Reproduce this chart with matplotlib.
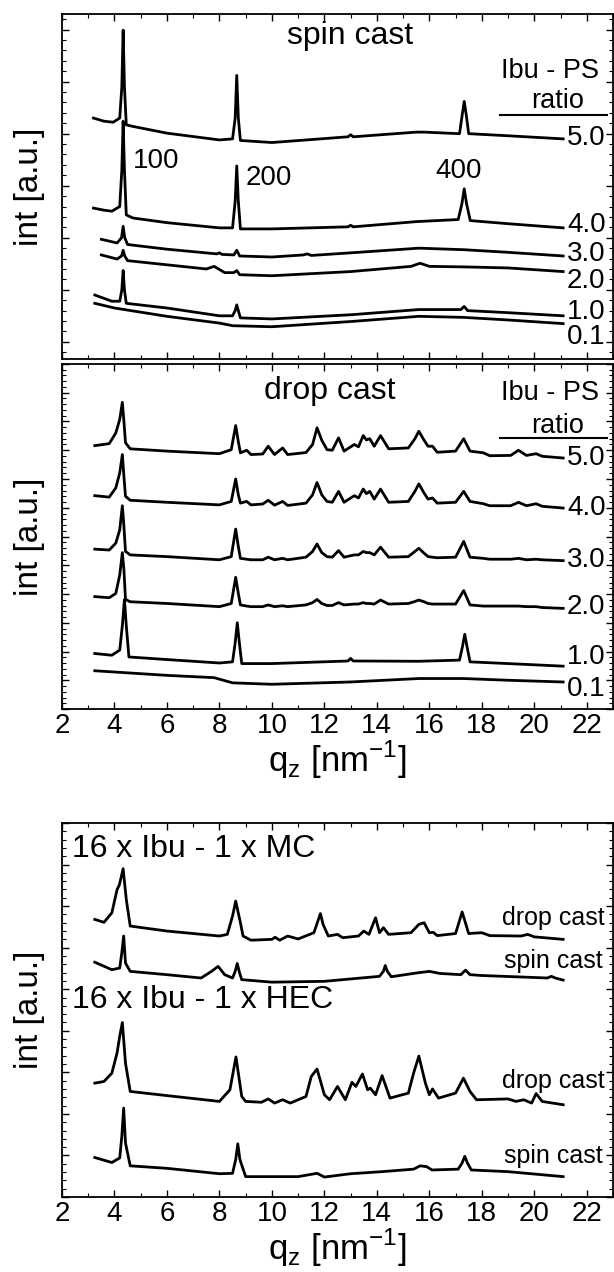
import matplotlib
matplotlib.use("Agg")
import matplotlib.pyplot as plt
from matplotlib.ticker import MultipleLocator, AutoMinorLocator

plt.rcParams['font.family'] = ['Liberation Sans', 'DejaVu Sans']
plt.rcParams['mathtext.fontset'] = 'custom'
plt.rcParams['mathtext.rm'] = 'Liberation Sans'

# ---------------- spin cast (top panel) ----------------
spin_q_50 = [3.2, 3.6, 3.95, 4.2, 4.28, 4.33, 4.38, 4.45, 4.7, 6.0, 8.0, 8.5, 8.6, 8.66, 8.72, 8.8, 10.0,
             12.9, 13.0, 13.1, 15.5, 15.8, 17.15, 17.25, 17.33, 17.41, 17.5, 19.0, 21.1]
spin_i_50 = [4.30, 4.24, 4.22, 4.30, 4.9, 5.99, 4.9, 4.17, 4.14, 4.01, 3.88, 3.90, 4.3, 5.12, 4.3, 3.87, 3.83,
             3.94, 3.98, 3.94, 4.03, 4.03, 4.0, 4.35, 4.62, 4.35, 4.0, 3.96, 3.90]

spin_q_40 = [3.2, 3.6, 3.9, 4.2, 4.28, 4.33, 4.38, 4.45, 4.7, 6.0, 8.0, 8.5, 8.6, 8.66, 8.72, 8.8, 10.0,
             12.9, 13.0, 13.1, 15.5, 17.1, 17.24, 17.33, 17.42, 17.56, 19.0, 21.1]
spin_i_40 = [2.57, 2.53, 2.51, 2.60, 3.3, 4.24, 3.3, 2.44, 2.38, 2.29, 2.19, 2.19, 2.7, 3.38, 2.7, 2.17, 2.17,
             2.21, 2.24, 2.21, 2.31, 2.35, 2.65, 2.94, 2.65, 2.33, 2.27, 2.19]

spin_q_30 = [3.5, 4.1, 4.27, 4.33, 4.39, 4.5, 6.0, 7.9, 8.0, 8.1, 8.55, 8.66, 8.77, 10.0, 11.2, 11.35, 11.5,
             13.0, 15.6, 17.33, 19.0, 21.1]
spin_i_30 = [1.97, 1.90, 2.0, 2.22, 2.0, 1.87, 1.78, 1.69, 1.71, 1.68, 1.67, 1.76, 1.65, 1.63, 1.67, 1.69, 1.66,
             1.71, 1.80, 1.77, 1.72, 1.65]

spin_q_20 = [3.5, 4.1, 4.27, 4.33, 4.39, 4.5, 6.0, 7.5, 7.8, 8.2, 8.55, 8.66, 8.77, 10.0, 13.0, 15.3, 15.65,
             16.0, 17.33, 19.0, 21.1]
spin_i_20 = [1.67, 1.59, 1.65, 1.76, 1.65, 1.56, 1.48, 1.40, 1.45, 1.33, 1.33, 1.37, 1.29, 1.27, 1.35, 1.45, 1.51,
             1.45, 1.44, 1.42, 1.35]

spin_q_10 = [3.25, 3.9, 4.2, 4.28, 4.33, 4.38, 4.45, 6.0, 8.0, 8.5, 8.6, 8.66, 8.72, 8.8, 10.0, 13.0, 15.6,
             17.2, 17.33, 17.46, 19.0, 21.1]
spin_i_10 = [0.90, 0.78, 0.78, 1.0, 1.37, 1.0, 0.74, 0.65, 0.50, 0.50, 0.6, 0.71, 0.6, 0.46, 0.44, 0.52, 0.62,
             0.62, 0.68, 0.60, 0.56, 0.50]

spin_q_01 = [3.25, 4.0, 6.0, 8.0, 8.5, 10.0, 13.0, 15.6, 17.3, 19.0, 21.1]
spin_i_01 = [0.74, 0.65, 0.49, 0.36, 0.31, 0.29, 0.39, 0.49, 0.47, 0.42, 0.35]

spin_ratio_labels = ['5.0', '4.0', '3.0', '2.0', '1.0', '0.1']
spin_ratio_y = [3.92, 2.24, 1.68, 1.17, 0.58, 0.10]

# ---------------- drop cast (middle panel) ----------------
drop_q = [3.25, 3.8, 4.05, 4.2, 4.3, 4.36, 4.42, 4.6, 6.0, 8.0, 8.45, 8.62, 8.72, 8.8, 9.04, 9.2, 9.65, 9.86,
          10.1, 10.41, 10.6, 11.3, 11.55, 11.72, 11.9, 12.1, 12.3, 12.54, 12.75, 13.14, 13.3, 13.48, 13.6,
          13.73, 13.9, 14.14, 14.45, 15.2, 15.45, 15.6, 15.8, 15.95, 16.12, 16.3, 17.0, 17.31, 17.55, 18.06,
          18.3, 19.1, 19.4, 19.7, 20.07, 20.3, 21.1]
drop_i_50 = [8.16, 8.23, 8.6, 9.07, 9.67, 9.0, 8.26, 8.05, 7.97, 7.88, 8.02, 8.86, 8.3, 7.91, 8.0, 7.85, 7.87, 8.14,
             7.85, 8.08, 7.85, 7.92, 8.2, 8.78, 8.35, 8.02, 8.0, 8.43, 7.97, 8.2, 8.12, 8.51, 8.36,
             8.4, 8.14, 8.51, 8.05, 8.08, 8.4, 8.66, 8.35, 8.14, 8.14, 7.93, 7.97, 8.4, 7.97, 7.91,
             7.81, 7.82, 8.0, 7.82, 7.88, 7.79, 7.73]
drop_i_40 = [6.42, 6.37, 6.69, 7.21, 7.85, 7.09, 6.4, 6.26, 6.19, 6.1, 6.22, 7.0, 6.45, 6.16, 6.22, 6.1, 6.13, 6.26,
             6.09, 6.22, 6.08, 6.16, 6.45, 6.88, 6.45, 6.22, 6.19, 6.57, 6.19, 6.42, 6.34, 6.65, 6.49,
             6.57, 6.3, 6.65, 6.19, 6.22, 6.57, 6.83, 6.51, 6.3, 6.34, 6.16, 6.19, 6.57, 6.22, 6.14,
             6.07, 6.07, 6.19, 6.07, 6.14, 6.05, 5.99]
drop_i_30 = [4.56, 4.53, 4.77, 5.23, 6.07, 5.35, 4.48, 4.36, 4.30, 4.19, 4.3, 5.26, 4.65, 4.24, 4.21, 4.19, 4.19, 4.28,
             4.19, 4.24, 4.19, 4.28, 4.48, 4.74, 4.44, 4.3, 4.28, 4.51, 4.28, 4.36, 4.36, 4.48, 4.44,
             4.44, 4.36, 4.63, 4.28, 4.3, 4.48, 4.59, 4.42, 4.3, 4.28, 4.26, 4.28, 4.83, 4.28, 4.24,
             4.21, 4.21, 4.24, 4.19, 4.21, 4.19, 4.16]
drop_i_20 = [2.91, 2.87, 3.02, 3.66, 4.44, 3.84, 2.81, 2.73, 2.67, 2.56, 2.67, 3.58, 3.02, 2.62, 2.58, 2.56, 2.56, 2.62,
             2.56, 2.59, 2.56, 2.62, 2.7, 2.81, 2.67, 2.6, 2.6, 2.7, 2.62, 2.65, 2.65, 2.7, 2.67,
             2.67, 2.65, 2.79, 2.65, 2.67, 2.74, 2.79, 2.73, 2.67, 2.65, 2.65, 2.65, 3.12, 2.62, 2.58,
             2.58, 2.58, 2.58, 2.56, 2.56, 2.53, 2.5]

drop_q_10 = [3.25, 3.9, 4.2, 4.3, 4.38, 4.45, 4.55, 6.0, 8.0, 8.5, 8.6, 8.68, 8.76, 8.85, 10.0, 12.9, 13.0, 13.1,
             15.6, 17.15, 17.27, 17.35, 17.43, 17.55, 19.0, 21.1]
drop_i_10 = [0.93, 0.87, 1.05, 1.9, 2.81, 1.9, 0.81, 0.72, 0.6, 0.64, 1.3, 2.0, 1.3, 0.58, 0.58, 0.67, 0.76, 0.67,
             0.66, 0.70, 1.2, 1.6, 1.2, 0.64, 0.58, 0.49]

drop_q_01 = [3.25, 6.0, 7.8, 8.5, 10.0, 13.0, 15.6, 17.3, 19.0, 21.1]
drop_i_01 = [0.33, 0.17, 0.09, -0.09, -0.14, -0.06, 0.06, 0.06, 0.0, -0.06]

drop_ratio_labels = ['5.0', '4.0', '3.0', '2.0', '1.0', '0.1']
drop_ratio_y = [7.73, 5.99, 4.19, 2.56, 0.81, -0.29]

# ---------------- cellulose blends (bottom panel) ----------------
mc_drop_q = [3.25, 3.6, 3.9, 4.1, 4.18, 4.25, 4.33, 4.45, 4.6, 6.0, 8.0, 8.3, 8.5, 8.62, 8.8, 8.9, 9.2,
             10.0, 10.12, 10.3, 10.6, 11.0, 11.6, 11.85, 11.95, 12.15, 12.5, 12.7, 13.3, 13.5, 13.7, 13.95,
             14.1, 14.25, 14.45, 15.3, 15.6, 15.8, 16.0, 16.15, 16.3, 17.0, 17.25, 17.5, 18.0, 18.3, 19.5,
             19.75, 20.0, 21.1]
mc_drop_i = [5.68, 5.61, 5.84, 6.4, 6.5, 6.68, 6.9, 6.16, 5.52, 5.4, 5.28, 5.32, 5.76, 6.12, 5.6, 5.28, 5.18,
             5.2, 5.25, 5.18, 5.28, 5.21, 5.36, 5.82, 5.56, 5.28, 5.32, 5.24, 5.28, 5.4, 5.32, 5.72,
             5.36, 5.48, 5.32, 5.36, 5.56, 5.6, 5.36, 5.37, 5.29, 5.34, 5.86, 5.34, 5.36, 5.29, 5.28,
             5.32, 5.26, 5.2]

mc_spin_q = [3.25, 3.9, 4.2, 4.28, 4.35, 4.42, 4.6, 6.0, 7.3, 7.7, 7.95, 8.2, 8.5, 8.6, 8.68, 8.76, 8.85,
             10.0, 12.0, 14.1, 14.25, 14.32, 14.4, 14.55, 15.5, 16.0, 16.4, 17.2, 17.38, 17.55, 18.0,
             20.5, 20.65, 20.8, 21.1]
mc_spin_i = [4.65, 4.47, 4.51, 4.88, 5.28, 4.63, 4.43, 4.35, 4.27, 4.43, 4.55, 4.35, 4.27, 4.43, 4.62, 4.41, 4.23,
             4.17, 4.19, 4.31, 4.43, 4.57, 4.43, 4.3, 4.39, 4.43, 4.38, 4.35, 4.46, 4.35, 4.33,
             4.27, 4.31, 4.27, 4.22]

hec_drop_q = [3.25, 3.6, 3.9, 4.1, 4.2, 4.3, 4.42, 4.6, 6.0, 8.0, 8.4, 8.63, 8.85, 9.0, 9.6, 9.86, 10.1, 10.41,
              10.7, 11.3, 11.5, 11.72, 12.0, 12.2, 12.5, 12.8, 13.05, 13.2, 13.45, 13.65, 13.75, 13.95, 14.2,
              14.5, 15.2, 15.4, 15.6, 15.85, 16.0, 16.12, 16.35, 17.0, 17.3, 17.55, 17.8, 19.0, 19.3, 19.6,
              19.9, 20.07, 20.3, 21.1]
hec_drop_i = [1.74, 1.78, 1.98, 2.47, 2.87, 3.2, 2.22, 1.54, 1.44, 1.3, 1.58, 2.37, 1.42, 1.3, 1.28, 1.36, 1.26, 1.34,
              1.26, 1.42, 1.9, 2.08, 1.46, 1.34, 1.66, 1.34, 1.76, 1.66, 1.96, 1.58, 1.62, 1.46, 1.92,
              1.38, 1.5, 1.98, 2.39, 1.74, 1.46, 1.6, 1.38, 1.5, 1.86, 1.54, 1.34, 1.36, 1.3, 1.34,
              1.26, 1.49, 1.3, 1.22]

hec_spin_q = [3.25, 3.9, 4.2, 4.28, 4.35, 4.42, 4.6, 6.0, 8.0, 8.5, 8.62, 8.7, 8.78, 9.0, 11.0, 11.72, 12.0,
              13.0, 14.2, 15.4, 15.65, 15.9, 16.1, 17.1, 17.25, 17.35, 17.45, 17.6, 19.0, 21.1]
hec_spin_i = [-0.05, -0.17, -0.06, 0.46, 1.14, 0.3, -0.25, -0.31, -0.44, -0.43, -0.1, 0.28, -0.1, -0.51, -0.51,
              -0.43, -0.52, -0.44, -0.39, -0.33, -0.25, -0.27, -0.35, -0.33, -0.18, -0.02, -0.18, -0.35,
              -0.39, -0.51]

blend_labels = ['drop cast', 'spin cast', 'drop cast', 'spin cast']
blend_label_y = [5.72, 4.67, 1.78, -0.02]

LW = 2.0


def style_axes(ax, ylo, yhi, show_x):
    ax.set_xlim(2, 23)
    ax.set_ylim(ylo, yhi)
    ax.xaxis.set_major_locator(MultipleLocator(2))
    ax.xaxis.set_minor_locator(MultipleLocator(1))
    ax.yaxis.set_major_locator(MultipleLocator(1))
    ax.yaxis.set_minor_locator(AutoMinorLocator(5))
    ax.tick_params(which='both', direction='in', top=True, right=True, labelleft=False)
    ax.tick_params(which='major', length=5, width=1)
    ax.tick_params(which='minor', length=3, width=0.8)
    ax.tick_params(axis='x', labelsize=20, labelbottom=show_x, pad=3)
    for sp in ax.spines.values():
        sp.set_linewidth(1.3)
    ax.set_ylabel('int [a.u.]', fontsize=24)
    ax.yaxis.set_label_coords(-0.031, 0.5)
    if show_x:
        ax.set_xlabel(r'q$_\mathregular{z}$ [nm$^\mathregular{-1}$]', fontsize=25, labelpad=0)


fig = plt.figure(figsize=(6.14, 12.72), dpi=100)
ax1 = fig.add_axes([62 / 614, 1 - 359 / 1272, 551 / 614, 345 / 1272])
ax2 = fig.add_axes([62 / 614, 1 - 709 / 1272, 551 / 614, 345 / 1272])
ax3 = fig.add_axes([62 / 614, 1 - 1197 / 1272, 551 / 614, 374 / 1272])

# top panel
spin_curves = [(spin_q_50, spin_i_50), (spin_q_40, spin_i_40), (spin_q_30, spin_i_30),
               (spin_q_20, spin_i_20), (spin_q_10, spin_i_10), (spin_q_01, spin_i_01)]
for q, i in spin_curves:
    ax1.plot(q, i, color='black', lw=LW, solid_joinstyle='round')
for lab, y in zip(spin_ratio_labels, spin_ratio_y):
    ax1.text(21.25, y, lab, fontsize=20, ha='left', va='center')
ax1.text(12.96, 5.87, 'spin cast', fontsize=23, ha='center', va='center')
ax1.text(20.6, 5.2, 'Ibu - PS', fontsize=19.5, ha='center', va='center')
ax1.text(20.9, 4.62, 'ratio', fontsize=19.5, ha='center', va='center')
ax1.plot([18.7, 22.78], [4.35, 4.35], color='black', lw=1.5)
ax1.text(4.71, 3.47, '100', fontsize=20, ha='left', va='center')
ax1.text(9.0, 3.15, '200', fontsize=20, ha='left', va='center')
ax1.text(17.12, 3.28, '400', fontsize=20, ha='center', va='center')
style_axes(ax1, -0.33, 6.3, False)

# middle panel
drop_curves = [(drop_q, drop_i_50), (drop_q, drop_i_40), (drop_q, drop_i_30),
               (drop_q, drop_i_20), (drop_q_10, drop_i_10), (drop_q_01, drop_i_01)]
for q, i in drop_curves:
    ax2.plot(q, i, color='black', lw=LW, solid_joinstyle='round')
for lab, y in zip(drop_ratio_labels, drop_ratio_y):
    ax2.text(21.25, y, lab, fontsize=20, ha='left', va='center')
ax2.text(12.2, 10.06, 'drop cast', fontsize=23, ha='center', va='center')
ax2.text(20.6, 10.0, 'Ibu - PS', fontsize=19.5, ha='center', va='center')
ax2.text(20.9, 8.84, 'ratio', fontsize=19.5, ha='center', va='center')
ax2.plot([18.7, 22.78], [8.43, 8.43], color='black', lw=1.5)
style_axes(ax2, -1.0, 11.0, True)

# bottom panel
blend_curves = [(mc_drop_q, mc_drop_i), (mc_spin_q, mc_spin_i),
                (hec_drop_q, hec_drop_i), (hec_spin_q, hec_spin_i)]
for q, i in blend_curves:
    ax3.plot(q, i, color='black', lw=LW, solid_joinstyle='round')
for lab, y in zip(blend_labels, blend_label_y):
    ax3.text(20.74, y, lab, fontsize=18, ha='center', va='center')
ax3.text(2.37, 7.37, '16 x Ibu - 1 x MC', fontsize=23, ha='left', va='center')
ax3.text(2.37, 3.75, '16 x Ibu - 1 x HEC', fontsize=23, ha='left', va='center')
style_axes(ax3, -1.0, 8.0, True)

fig.savefig('out.png', dpi=100)
